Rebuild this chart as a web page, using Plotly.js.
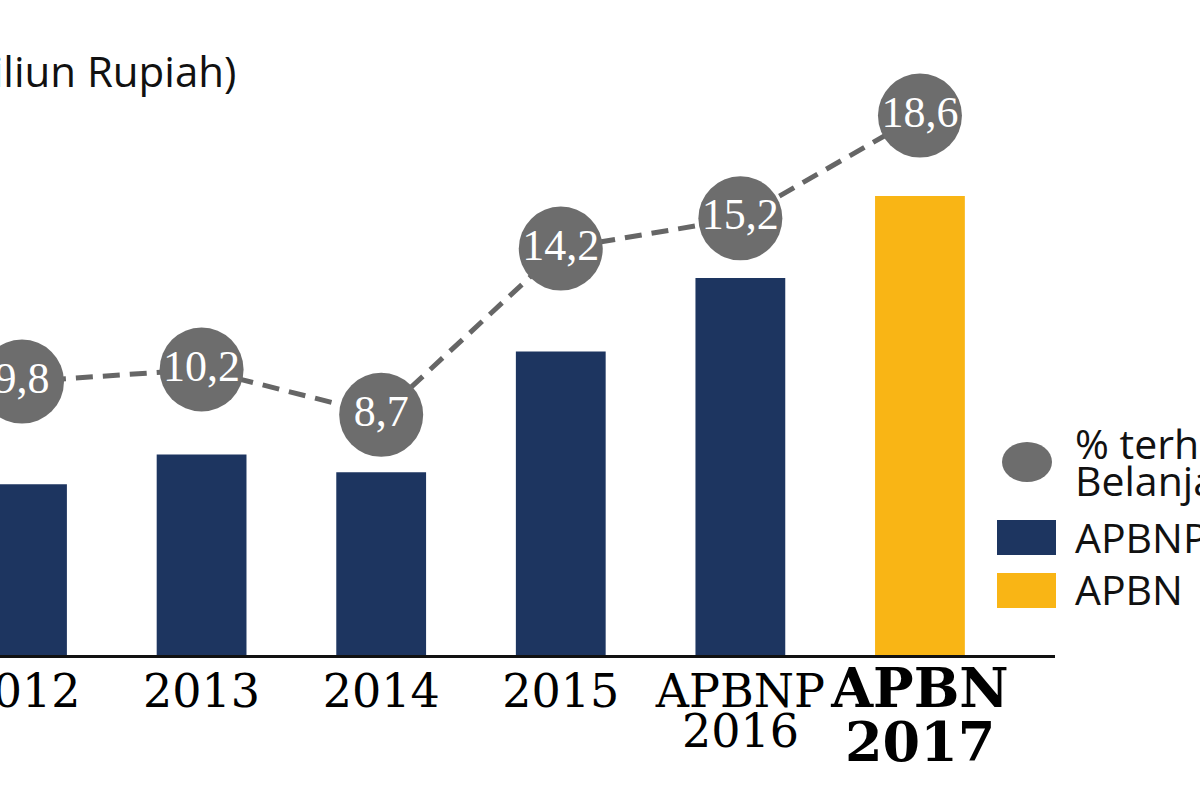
<!DOCTYPE html>
<html>
<head>
<meta charset="utf-8">
<script src="https://cdn.plot.ly/plotly-3.0.1.min.js"></script>
<style>html,body{margin:0;padding:0;background:#fff;}#chart{width:1200px;height:800px;}</style>
</head>
<body>
<div id="chart"></div>
<script>
// ---- data ----
var categories = ["2012", "2013", "2014", "2015", "APBNP 2016", "APBN 2017"];
var tickLine1 = ["2012", "2013", "2014", "2015", "APBNP", "<b><span style=\"font-size:54px\">APBN</span></b>"];
var tickLine2 = ["", "", "", "", "2016", "2017"];
var budgetAPBNP = [144, 169, 154, 256, 318, null];   // Triliun Rupiah
var budgetAPBN  = [null, null, null, null, null, 387];
var pctBelanja  = [9.8, 10.2, 8.7, 14.2, 15.2, 18.6]; // % terhadap Belanja Negara
var legendLabels = ["% terhadap", "Belanja Negara", "APBNP", "APBN"];
var yTitle = "(Triliun Rupiah)";

// ---- layout helpers ----
var W = 1200, H = 800, mL = 0, mR = 145, mT = 40, mB = 145;
var plotW = W - mL - mR, plotH = H - mT - mB;
function px(x) { return (x - mL) / plotW; }
function py(y) { return (H - mB - y) / plotH; }

var NAVY = "#1d3560", YELLOW = "#f9b515", GREY = "#6d6d6d";

var traces = [
  {type: "bar", x: categories, y: budgetAPBNP, name: "APBNP",
   marker: {color: NAVY}, width: 0.5, hoverinfo: "y"},
  {type: "bar", x: categories, y: budgetAPBN, name: "APBN",
   marker: {color: YELLOW}, width: 0.5, hoverinfo: "y"},
  {type: "scatter", mode: "lines+markers+text", x: categories, y: pctBelanja, yaxis: "y2",
   name: "% terhadap Belanja Negara",
   line: {color: "#666666", width: 5, dash: "17px,10px"},
   marker: {color: GREY, size: 84},
   text: pctBelanja.map(function (v) { return v.toFixed(1).replace(".", ","); }),
   textposition: "middle center",
   textfont: {family: "Liberation Serif", size: 44, color: "#ffffff"},
   cliponaxis: false, hoverinfo: "y"}
];

var annotations = [
  {text: yTitle, xref: "paper", yref: "paper", x: px(238), y: py(70),
   xanchor: "right", yanchor: "middle", showarrow: false,
   font: {family: "Open Sans", size: 42, color: "#111111"}}
];
tickLine2.forEach(function (t, i) {
  if (!t) return;
  var bold = (i === categories.length - 1);
  annotations.push({
    text: bold ? "<b>" + t + "</b>" : t, xref: "x", yref: "paper", x: categories[i], y: 0,
    yanchor: "middle", yshift: bold ? -(742 - 655) : -(731 - 655), showarrow: false,
    font: {family: "DejaVu Serif", size: bold ? 54 : 46, color: "#000000"}
  });
});
// legend texts
var legY = [443, 480, 537, 589];
legendLabels.forEach(function (t, i) {
  annotations.push({text: t, xref: "paper", yref: "paper", x: px(1073), y: py(legY[i]),
    xanchor: "left", yanchor: "middle", showarrow: false,
    font: {family: "Open Sans", size: 41, color: "#111111"}});
});

var shapes = [
  {type: "circle", xref: "paper", yref: "paper", x0: px(1002), x1: px(1052), y0: py(482), y1: py(442),
   fillcolor: GREY, line: {width: 0}},
  {type: "rect", xref: "paper", yref: "paper", x0: px(997), x1: px(1056), y0: py(555), y1: py(520),
   fillcolor: NAVY, line: {width: 0}},
  {type: "rect", xref: "paper", yref: "paper", x0: px(997), x1: px(1056), y0: py(608), y1: py(573),
   fillcolor: YELLOW, line: {width: 0}}
];

var layout = {
  width: W, height: H,
  margin: {l: mL, r: mR, t: mT, b: mB, pad: 0},
  paper_bgcolor: "#ffffff", plot_bgcolor: "#ffffff",
  showlegend: false, barmode: "overlay",
  xaxis: {type: "category", range: [-0.1225, 5.752], tickmode: "array",
          tickvals: categories, ticktext: tickLine1, ticks: "",
          showline: true, linecolor: "#111111", linewidth: 3, showgrid: false, zeroline: false,
          tickfont: {family: "DejaVu Serif", size: 46, color: "#000000"}, tickangle: 0,
          ticklabelstandoff: -6, automargin: false, fixedrange: true},
  yaxis: {range: [0, 518.6], visible: false, showgrid: false, zeroline: false, fixedrange: true},
  yaxis2: {range: [0.757, 21.10], overlaying: "y", visible: false, showgrid: false, zeroline: false, fixedrange: true},
  annotations: annotations,
  shapes: shapes
};

Plotly.newPlot("chart", traces, layout, {displayModeBar: false, staticPlot: true});
</script>
</body>
</html>
